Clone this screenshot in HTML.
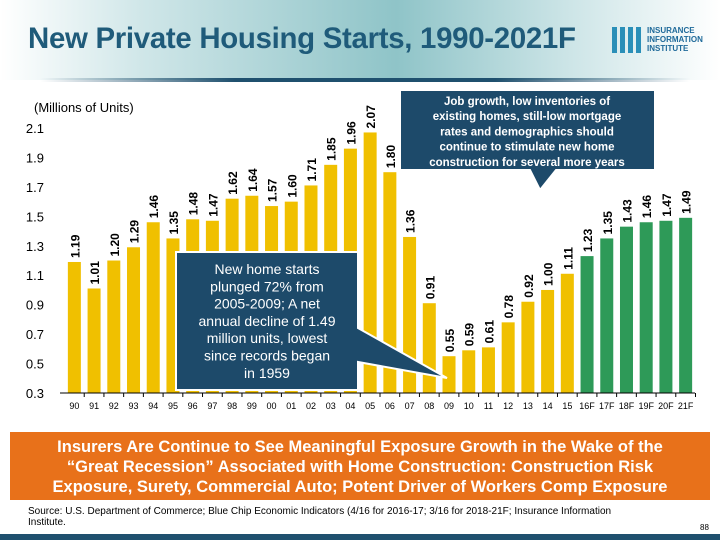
<!DOCTYPE html>
<html><head><meta charset="utf-8"><style>
body{margin:0;width:720px;height:540px;overflow:hidden;background:#fff;font-family:"Liberation Sans",sans-serif;position:relative}
.hdr{position:absolute;left:0;top:0;width:720px;height:80px;background:linear-gradient(90deg,#ffffff 0%,#cfe6e8 20%,#8fc4c8 55%,#cfe6e8 80%,#ffffff 100%)}
.title{position:absolute;left:28px;top:22px;font-size:30px;font-weight:bold;color:#1f5b7a;letter-spacing:-0.3px;transform:scaleX(0.98);transform-origin:left}
.bar-line{position:absolute;left:40px;top:78px;width:650px;height:4px;background:linear-gradient(90deg,rgba(31,80,110,0),#1f506e 30%,#1f506e 70%,rgba(31,80,110,0))}
.banner{position:absolute;left:10px;top:432px;width:700px;height:68px;background:#e8711a;color:#fff;font-weight:bold;font-size:16.5px;text-align:center;line-height:20px;padding-top:5px;box-sizing:border-box;white-space:nowrap}
.src{position:absolute;left:28px;top:506px;font-size:10px;color:#000;width:650px;line-height:11px}
</style></head><body>
<div class="hdr"></div>
<div class="title">New Private Housing Starts, 1990-2021F</div>
<div style="position:absolute;left:612px;top:27px;width:30px;height:26px;background:repeating-linear-gradient(90deg,#2a8fb8 0 5px,transparent 5px 8px)"></div>
<div style="position:absolute;left:647px;top:26px;font-size:8px;font-weight:bold;color:#1f6a9a;line-height:9px">INSURANCE<br>INFORMATION<br>INSTITUTE</div>
<div class="bar-line"></div>
<svg id="chart" width="720" height="430" style="position:absolute;left:0;top:0"></svg>
<div class="banner">Insurers Are Continue to See Meaningful Exposure Growth in the Wake of the<br>“Great Recession” Associated with Home Construction: Construction Risk<br>Exposure, Surety, Commercial Auto; Potent Driver of Workers Comp Exposure</div>
<div class="src">Source: U.S. Department of Commerce; Blue Chip Economic Indicators (4/16 for 2016-17; 3/16 for 2018-21F; Insurance Information<br>Institute.</div>
<div style="position:absolute;left:700px;top:523px;font-size:8px">88</div>
<div style="position:absolute;left:0;top:534px;width:720px;height:6px;background:#1f506e"></div>
<script>
const categories=["90","91","92","93","94","95","96","97","98","99","00","01","02","03","04","05","06","07","08","09","10","11","12","13","14","15","16F","17F","18F","19F","20F","21F"];
const values=[1.19,1.01,1.20,1.29,1.46,1.35,1.48,1.47,1.62,1.64,1.57,1.60,1.71,1.85,1.96,2.07,1.80,1.36,0.91,0.55,0.59,0.61,0.78,0.92,1.00,1.11,1.23,1.35,1.43,1.46,1.47,1.49];
const forecast=[false,false,false,false,false,false,false,false,false,false,false,false,false,false,false,false,false,false,false,false,false,false,false,false,false,false,true,true,true,true,true,true];
const yTicks=[0.3,0.5,0.7,0.9,1.1,1.3,1.5,1.7,1.9,2.1];
const NS="http://www.w3.org/2000/svg";
const svg=document.getElementById('chart');
const y0=393,x0=60,x1=695;
const yS=v=>y0-(v-0.3)*147.2;
const step=(x1-x0-4)/categories.length;
const xC=i=>x0+9+step*i+step/2-4.5;
function mk(t,a,p){const e=document.createElementNS(NS,t);for(const k in a)e.setAttribute(k,a[k]);(p||svg).appendChild(e);return e;}
let t=mk('text',{x:34,y:112,'font-size':13,fill:'#000'});t.textContent='(Millions of Units)';


yTicks.forEach(v=>{const e=mk('text',{x:44,y:yS(v)+5,'font-size':13,'text-anchor':'end',fill:'#000'});e.textContent=v.toFixed(1);

});
categories.forEach((c,i)=>{
 const x=xC(i),v=values[i];
 const r=mk('rect',{x:x-6.5,y:yS(v),width:13,height:y0-yS(v),fill:forecast[i]?'#2e9a58':'#f0c000'});
 
 
 const l=mk('text',{transform:`translate(${x+5},${yS(v)-4}) rotate(-90)`,'font-size':12,'font-weight':'bold',fill:'#000'});
 l.textContent=v.toFixed(2);
 
 
 const xl=mk('text',{x:x,y:y0+16,'font-size':9,'text-anchor':'middle',fill:'#000'});xl.textContent=c;
 
 
 mk('line',{x1:x+step/2,x2:x+step/2,y1:y0,y2:y0+4,stroke:'#000'});
});
const ax=mk('line',{x1:x0,x2:x1,y1:y0,y2:y0,stroke:'#000'});


const g1=mk('g',{});


mk('path',{d:'M176,252 H358 V328 L447,378 L358,362 V390 H176 Z',fill:'#1d4a6a',stroke:'#fff','stroke-width':2},g1);
["New home starts","plunged 72% from","2005-2009; A net","annual decline of 1.49","million units, lowest","since records began","in 1959"].forEach((s,i)=>{const e=mk('text',{x:267,y:274+i*17.3,'font-size':14,fill:'#fff','text-anchor':'middle'},g1);e.textContent=s;});
const g2=mk('g',{});


mk('path',{d:'M400,90 H655 V170 H556 L540,190 L530,170 H400 Z',fill:'#1d4a6a',stroke:'#fff','stroke-width':2},g2);
["Job growth, low inventories of","existing homes,  still-low mortgage","rates and demographics should","continue to stimulate new home","construction for several more years"].forEach((s,i)=>{const e=mk('text',{x:527,y:105+i*15.2,'font-size':11.5,'font-weight':'bold',fill:'#fff','text-anchor':'middle'},g2);e.textContent=s;});
</script>
</body></html>
